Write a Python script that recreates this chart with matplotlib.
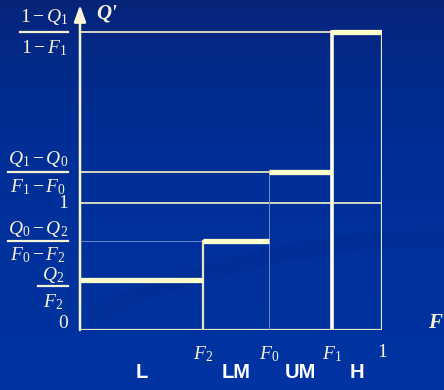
import numpy as np
import matplotlib
matplotlib.use("Agg")
import matplotlib.pyplot as plt
from matplotlib.colors import LinearSegmentedColormap

plt.rcParams['mathtext.fontset'] = 'custom'
plt.rcParams['mathtext.rm'] = 'Liberation Serif'
plt.rcParams['mathtext.it'] = 'Liberation Serif:italic'
plt.rcParams['font.family'] = ['Liberation Serif', 'DejaVu Sans']

# Step levels of Q' over the quantile bounds of F
bounds = [0.0, 0.407, 0.626, 0.834, 1.0]
levels = [0.39, 0.70, 1.24, 2.34]
segments = ['L', 'LM', 'UM', 'H']
xtick_labels = ['$F_2$', '$F_0$', '$F_1$', '1']

# y-axis labels: (value, numerator, denominator, bar drop px, num/den offsets px, bar x-range px)
ylabels = [
    (levels[3], '$1-Q_1$', '$1-F_1$', 0, (15, -16), (-60, -12)),
    (levels[2], '$Q_1-Q_0$', '$F_1-F_0$', 0, (13, -15), (-72, -12)),
    (levels[1], '$Q_0-Q_2$', '$F_0-F_2$', 0, (12, -14), (-72, -12)),
    (levels[0], '$Q_2$', '$F_2$', 6, (11, -16), (-42, -12)),
]

cream = '#ffffcc'
thin = '#e4e4c4'
faint = '#7088c8'
txt = '#f6f2d6'
px = 0.72        # points per pixel at 100 dpi
ppu = 325 / 2.55  # pixels per y unit

fig = plt.figure(figsize=(4.44, 3.9), dpi=100)

# slide background
bg = fig.add_axes([0, 0, 1, 1], zorder=-5)
cmap = LinearSegmentedColormap.from_list('slide', ['#062478', '#002e96', '#0034a2'])
grad = np.linspace(0, 1, 256).reshape(-1, 1) ** 0.7
bg.imshow(grad, aspect='auto', cmap=cmap, extent=[0, 1, 0, 1], origin='upper')
# soft darker swoosh
t = np.linspace(0, 1, 100)
sx = 0.22 + 0.78 * t
sy = 0.20 + 0.19 * (1 - (1 - t) ** 2)
bg.plot(sx, sy, color='#002a86', lw=12, alpha=0.22, solid_capstyle='round')
bg.set_xlim(0, 1)
bg.set_ylim(0, 1)
bg.axis('off')

ax = fig.add_axes([80 / 444, 60 / 390, 302 / 444, 325 / 390])
ax.patch.set_alpha(0)
ax.set_xlim(0, 1)
ax.set_ylim(0, 2.55)
for s in ax.spines.values():
    s.set_visible(False)
ax.set_yticks([])

# guide lines
ax.plot([0, 1], [0, 0], color=thin, lw=1.6, solid_capstyle='projecting')
ax.plot([0, 1], [1, 1], color=thin, lw=1.3)
ax.plot([0, bounds[2]], [levels[2]] * 2, color=thin, lw=1.3)
ax.plot([0, bounds[3]], [levels[3]] * 2, color=thin, lw=1.3)
ax.plot([0, bounds[1]], [levels[1]] * 2, color=faint, lw=0.7)
ax.plot([bounds[4]] * 2, [0, levels[3]], color=thin, lw=1.6)
ax.plot([bounds[1]] * 2, [0, levels[1]], color=thin, lw=1.6)
ax.plot([bounds[2]] * 2, [0, levels[2]], color=faint, lw=0.7)
ax.plot([bounds[3]] * 2, [0, levels[3]], color='#fffde4', lw=2.6)

# step bars
for i, lv in enumerate(levels):
    ax.plot([bounds[i], bounds[i + 1]], [lv, lv], color=cream, lw=3.8,
            solid_capstyle='butt')

# y axis with arrow
ax.annotate('', xy=(0, 2.55), xytext=(0, 0),
            arrowprops=dict(arrowstyle='-|>,head_length=1.0,head_width=0.36',
                            color='#f8f6d8', lw=1.8, shrinkA=0, shrinkB=0))
ax.text(0.055, 2.55 - 9 / ppu, "Q'", color=txt, fontsize=15, style='italic',
        weight='bold', ha='left', va='center')
ax.text(1.175, 7 / ppu, 'F', color=txt, fontsize=15, style='italic',
        weight='bold', ha='center', va='center')

# x tick labels
ax.set_xticks(bounds[1:], xtick_labels)
ax.tick_params(axis='x', length=0, pad=10, labelsize=14, labelcolor=txt)

# y labels drawn as stacked fractions
ytr = ax.get_yaxis_transform()
for val, num, den, dy, (up, down), (x0, x1) in ylabels:
    xc = (x0 + x1) / 2
    ax.annotate(num, xy=(0, val), xycoords=ytr,
                xytext=(xc * px, (up - dy) * px), textcoords='offset points',
                ha='center', va='center', fontsize=14, color=txt)
    ax.annotate(den, xy=(0, val), xycoords=ytr,
                xytext=(xc * px, (down - dy) * px), textcoords='offset points',
                ha='center', va='center', fontsize=14, color=txt)
    ax.plot([x0 / 302, x1 / 302], [val - dy / ppu] * 2, transform=ytr,
            color=txt, lw=1.6, clip_on=False)

for val, lab, dy in [(0, '0', 7), (1, '1', -1)]:
    ax.annotate(lab, xy=(0, val), xycoords=ytr, xytext=(-12 * px, dy * px),
                textcoords='offset points', ha='right', va='center',
                fontsize=14, color=txt)

# segment names under the steps
for i, name in enumerate(segments):
    ax.text((bounds[i] + bounds[i + 1]) / 2, -42 / ppu, name, color='white',
            fontsize=14.5, weight='bold', family='Liberation Sans',
            ha='center', va='center')

fig.savefig('out.png', dpi=100)
